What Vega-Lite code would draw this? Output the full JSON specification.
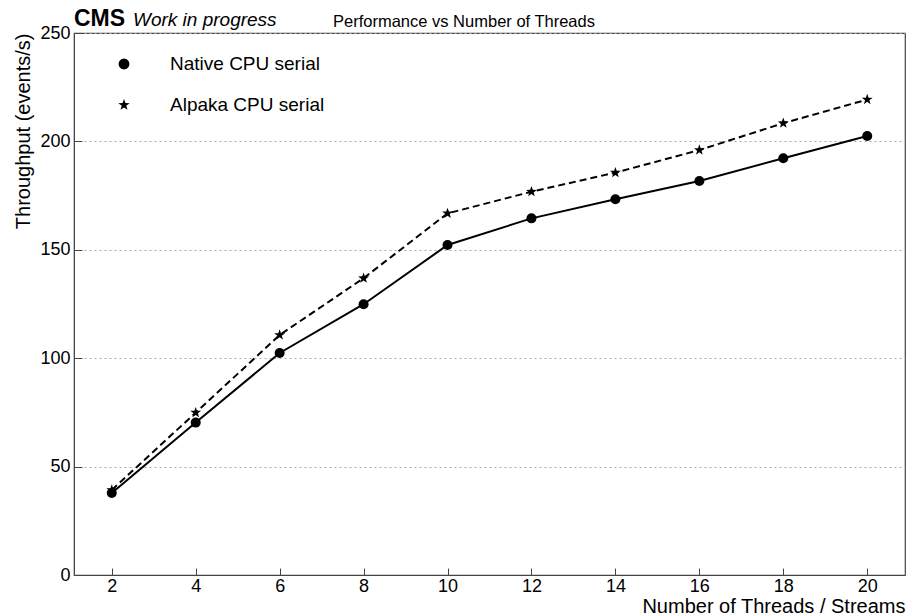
{
  "$schema": "https://vega.github.io/schema/vega-lite/v6.json",
  "width": 831,
  "height": 542,
  "autosize": {"type": "none"},
  "padding": {"left": 74, "top": 33, "right": 4, "bottom": 40},
  "background": "white",
  "config": {
    "font": "Liberation Sans",
    "view": {"stroke": "#444", "strokeWidth": 1.2},
    "axis": {
      "labelFont": "Liberation Sans",
      "labelFontSize": 18,
      "labelColor": "black",
      "domainColor": "#444",
      "tickColor": "#444",
      "titleFont": "Liberation Sans",
      "titleFontWeight": "normal",
      "titleFontSize": 20,
      "titleColor": "black",
      "grid": false
    },
    "legend": {
      "labelFont": "Liberation Sans",
      "labelFontSize": 19,
      "labelColor": "black"
    }
  },
  "datasets": {
    "perf": [
      {"threads": 2, "series": "Native CPU serial", "throughput": 37.8},
      {"threads": 4, "series": "Native CPU serial", "throughput": 70.3},
      {"threads": 6, "series": "Native CPU serial", "throughput": 102.4},
      {"threads": 8, "series": "Native CPU serial", "throughput": 124.9},
      {"threads": 10, "series": "Native CPU serial", "throughput": 152.2},
      {"threads": 12, "series": "Native CPU serial", "throughput": 164.5},
      {"threads": 14, "series": "Native CPU serial", "throughput": 173.3},
      {"threads": 16, "series": "Native CPU serial", "throughput": 181.7},
      {"threads": 18, "series": "Native CPU serial", "throughput": 192.2},
      {"threads": 20, "series": "Native CPU serial", "throughput": 202.5},
      {"threads": 2, "series": "Alpaka CPU serial", "throughput": 39.2},
      {"threads": 4, "series": "Alpaka CPU serial", "throughput": 74.9},
      {"threads": 6, "series": "Alpaka CPU serial", "throughput": 110.7},
      {"threads": 8, "series": "Alpaka CPU serial", "throughput": 136.9},
      {"threads": 10, "series": "Alpaka CPU serial", "throughput": 166.8},
      {"threads": 12, "series": "Alpaka CPU serial", "throughput": 176.8},
      {"threads": 14, "series": "Alpaka CPU serial", "throughput": 185.6},
      {"threads": 16, "series": "Alpaka CPU serial", "throughput": 196.0},
      {"threads": 18, "series": "Alpaka CPU serial", "throughput": 208.4},
      {"threads": 20, "series": "Alpaka CPU serial", "throughput": 219.3}
    ]
  },
  "layer": [
    {
      "data": {"name": "perf"},
      "transform": [{"filter": "datum.series === 'Native CPU serial'"}],
      "mark": {"type": "line", "strokeWidth": 2, "color": "black"},
      "encoding": {
        "x": {
          "field": "threads", "type": "quantitative",
          "scale": {"domain": [1.1, 20.9], "nice": false, "zero": false},
          "axis": {
            "orient": "bottom",
            "values": [2, 4, 6, 8, 10, 12, 14, 16, 18, 20],
            "tickSize": -7,
            "labelPadding": 9, "labelFlush": false,
            "title": "Number of Threads / Streams", "titleAnchor": "end", "titlePadding": 1
          }
        },
        "y": {
          "field": "throughput", "type": "quantitative",
          "scale": {"domain": [0, 250], "nice": false, "zero": true},
          "axis": {
            "orient": "left",
            "values": [0, 50, 100, 150, 200, 250],
            "tickSize": -8,
            "labelPadding": 12, "labelFlush": false,
            "grid": true, "gridDash": [2, 3], "gridColor": "#aaa", "gridWidth": 1,
            "title": "Throughput (events/s)", "titleAnchor": "end", "titlePadding": 6
          }
        }
      }
    },
    {
      "data": {"name": "perf"},
      "transform": [{"filter": "datum.series === 'Alpaka CPU serial'"}],
      "mark": {"type": "line", "strokeWidth": 2, "color": "black", "strokeDash": [7, 4]},
      "encoding": {
        "x": {"field": "threads", "type": "quantitative"},
        "y": {"field": "throughput", "type": "quantitative"}
      }
    },
    {
      "data": {"name": "perf"},
      "transform": [{"filter": "datum.series === 'Native CPU serial'"}],
      "mark": {"type": "point", "shape": "circle", "filled": true, "color": "black", "opacity": 1, "size": 100},
      "encoding": {
        "x": {"field": "threads", "type": "quantitative"},
        "y": {"field": "throughput", "type": "quantitative"}
      }
    },
    {
      "data": {"name": "perf"},
      "transform": [{"filter": "datum.series === 'Alpaka CPU serial'"}],
      "mark": {"type": "point", "shape": "M0,-1L0.235,-0.324L0.951,-0.309L0.38,0.124L0.588,0.809L0,0.4L-0.588,0.809L-0.38,0.124L-0.951,-0.309L-0.235,-0.324Z", "filled": true, "color": "black", "opacity": 1, "size": 130},
      "encoding": {
        "x": {"field": "threads", "type": "quantitative"},
        "y": {"field": "throughput", "type": "quantitative"}
      }
    },
    {
      "data": {"name": "perf"},
      "mark": {"type": "point", "filled": true, "color": "black", "opacity": 0, "strokeWidth": 2},
      "encoding": {
        "x": {"field": "threads", "type": "quantitative"},
        "y": {"field": "throughput", "type": "quantitative"},
        "shape": {
          "field": "series", "type": "nominal",
          "scale": {
            "domain": ["Native CPU serial", "Alpaka CPU serial"],
            "range": [
              "M-1,0L1,0M0.183,0L0.158,0.092L0.092,0.158L0,0.183L-0.092,0.158L-0.158,0.092L-0.183,0L-0.158,-0.092L-0.092,-0.158L0,-0.183L0.092,-0.158L0.158,-0.092Z",
              "M-1,0L1,0M0,-0.2L0.047,-0.065L0.19,-0.062L0.076,0.025L0.118,0.162L0,0.08L-0.118,0.162L-0.076,0.025L-0.19,-0.062L-0.047,-0.065Z"
            ]
          },
          "legend": {
            "title": null, "orient": "none", "legendX": 19, "legendY": 0, "padding": 0,
            "symbolSize": 3600, "symbolFillColor": "black", "symbolStrokeColor": "black",
            "symbolStrokeWidth": 2, "symbolOpacity": 1,
            "labelOffset": 15, "rowPadding": -32,
            "encode": {"symbols": {"update": {"stroke": {"value": "black"}, "strokeWidth": {"value": 2}, "fill": {"value": "black"}}}}
          }
        },
        "strokeDash": {
          "field": "series", "type": "nominal",
          "scale": {"domain": ["Native CPU serial", "Alpaka CPU serial"], "range": [[1, 0], [7, 4]]},
          "legend": {
            "title": null, "orient": "none", "legendX": 19, "legendY": 0, "padding": 0,
            "symbolSize": 3600, "symbolFillColor": "black", "symbolStrokeColor": "black",
            "symbolStrokeWidth": 2, "symbolOpacity": 1,
            "labelOffset": 15, "rowPadding": -32,
            "encode": {"symbols": {"update": {"stroke": {"value": "black"}, "strokeWidth": {"value": 2}, "fill": {"value": "black"}}}}
          }
        }
      }
    },
    {
      "data": {"values": [{"label": "CMS"}]},
      "mark": {"type": "text", "font": "Liberation Sans", "fontSize": 23, "fontWeight": "bold", "align": "left", "baseline": "alphabetic", "dy": -7, "color": "black"},
      "encoding": {
        "x": {"datum": 1.1, "type": "quantitative"},
        "y": {"datum": 250, "type": "quantitative"},
        "text": {"field": "label"}
      }
    },
    {
      "data": {"values": [{"label": "Work in progress"}]},
      "mark": {"type": "text", "font": "Liberation Sans", "fontSize": 19, "fontStyle": "italic", "align": "left", "baseline": "alphabetic", "dx": 59, "dy": -7, "color": "black"},
      "encoding": {
        "x": {"datum": 1.1, "type": "quantitative"},
        "y": {"datum": 250, "type": "quantitative"},
        "text": {"field": "label"}
      }
    },
    {
      "data": {"values": [{"label": "Performance vs Number of Threads"}]},
      "mark": {"type": "text", "font": "Liberation Sans", "fontSize": 16.5, "align": "left", "baseline": "alphabetic", "dx": 259, "dy": -6, "color": "black"},
      "encoding": {
        "x": {"datum": 1.1, "type": "quantitative"},
        "y": {"datum": 250, "type": "quantitative"},
        "text": {"field": "label"}
      }
    }
  ]
}
